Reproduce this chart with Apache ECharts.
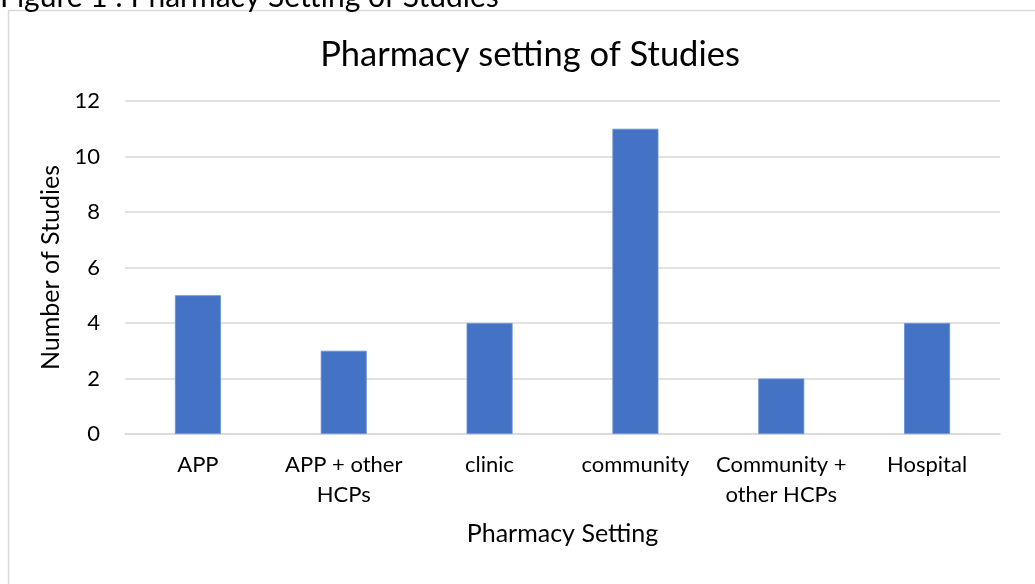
<!DOCTYPE html>
<html>
<head>
<meta charset="utf-8">
<script src="https://cdn.jsdelivr.net/npm/echarts@6/dist/echarts.min.js"></script>
<style>
html,body{margin:0;padding:0;background:#fff;}
#chart{width:1035px;height:584px;}
</style>
</head>
<body>
<div id="chart"></div>
<script>
var categories = ['APP', 'APP + other\nHCPs', 'clinic', 'community', 'Community +\nother HCPs', 'Hospital'];
var studyCounts = [5, 3, 4, 11, 2, 4];
var yTicks = { min: 0, max: 12, interval: 2 };
var chartTitle = 'Pharmacy setting of Studies';
var figureCaption = 'Figure 1 : Pharmacy Setting of Studies';
var xAxisName = 'Pharmacy Setting';
var yAxisName = 'Number of Studies';

var FONT = 'Lato, "Open Sans", sans-serif';
var chart = echarts.init(document.getElementById('chart'), null, {renderer: 'canvas'});
chart.setOption({
  animation: false,
  backgroundColor: '#fff',
  title: {
    text: chartTitle,
    left: 525, top: 32, textAlign: 'center',
    textStyle: {fontFamily: FONT, fontSize: 34.5, fontWeight: 'normal', color: '#000'}
  },
  graphic: [
    {type: 'rect', shape: {x: 8.5, y: 10.5, width: 1040, height: 600},
     style: {fill: 'none', stroke: '#d9d9d9', lineWidth: 1.5}, silent: true, z: -1},
    {type: 'text', left: 0, top: -18,
     style: {text: figureCaption, font: '30px ' + FONT, fill: '#000'}}
  ],
  grid: {left: 125, right: 35, top: 101, bottom: 150},
  xAxis: {
    type: 'category',
    data: categories,
    axisLine: {show: true, lineStyle: {color: '#d9d9d9', width: 1.5}},
    axisTick: {show: false},
    axisLabel: {fontFamily: FONT, fontSize: 22, color: '#000', margin: 16, lineHeight: 30, interval: 0},
    name: xAxisName,
    nameLocation: 'middle',
    nameGap: 87,
    nameTextStyle: {fontFamily: FONT, fontSize: 25, color: '#000'}
  },
  yAxis: {
    type: 'value',
    min: yTicks.min, max: yTicks.max, interval: yTicks.interval,
    axisLine: {show: false},
    axisTick: {show: false},
    splitLine: {lineStyle: {color: '#d9d9d9', width: 1.5}},
    axisLabel: {fontFamily: FONT, fontSize: 22, color: '#000', margin: 25},
    name: yAxisName,
    nameLocation: 'middle',
    nameGap: 55,
    nameRotate: 90,
    nameTextStyle: {fontFamily: FONT, fontSize: 25, color: '#000'}
  },
  series: [{
    type: 'bar',
    data: studyCounts,
    barWidth: 46,
    itemStyle: {color: '#4472C4', borderColor: '#6a8fd2', borderWidth: 0.8}
  }]
});
</script>
</body>
</html>
